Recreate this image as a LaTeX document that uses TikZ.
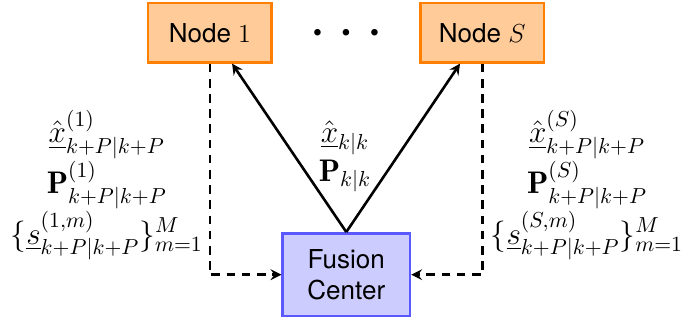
\documentclass[tikz,border=0pt]{standalone}
\usepackage{fontspec}
\setsansfont{TeX Gyre Heros}
\usepackage{amsmath, amssymb}
\usetikzlibrary{positioning, calc, arrows}
\newcommand{\xhat}{\ensuremath\hat{\underline{x}}}
\newcommand{\kP}{k+P|k+P}

\tikzset{
	sensor/.style={draw=orange, very thick, fill=orange!40, font=\sffamily\large, minimum width=2cm, minimum height=0.96cm},
	fusion/.style={draw=blue!65, very thick, fill=blue!20, font=\sffamily\large, align=center, minimum width=2.06cm, minimum height=1.34cm},
	msg/.style={align=center, font=\Large},
	report/.style={-stealth, very thick, dash pattern=on 4pt off 3pt},
	feedback/.style={-stealth, very thick},
}

\begin{document}
\begin{tikzpicture}
	\useasboundingbox (0,0) rectangle (11.34,5.25);
	\node[sensor] (n1) at (3.4,4.72) {Node $1$};
	\node[sensor, right=2.37cm of n1] (nS) {Node $S$};
	\node (dots) at ($(n1)!0.5!(nS)$) {\scriptsize$\bullet$\hspace{9pt}$\bullet$\hspace{9pt}$\bullet$};
	\node[fusion] (fc) at (5.61,0.8) {Fusion\\Center};
	
	\node[msg] (est) at (5.59,2.72) {$\xhat_{k|k}$\\$\mathbf{P}_{k|k}$};
	\node[msg] (loc1) at (1.73,2.25) {$\xhat^{(1)}_{\kP}$\\$\mathbf{P}^{(1)}_{\kP}$\\$\{\underline{s}^{(1,m)}_{\kP}\}_{m=1}^{M}$};
	\node[msg] (locS) at (9.51,2.25) {$\xhat^{(S)}_{\kP}$\\$\mathbf{P}^{(S)}_{\kP}$\\$\{\underline{s}^{(S,m)}_{\kP}\}_{m=1}^{M}$};
	
	\draw[report] (n1.south) |- (fc.west);
	\draw[report] (nS.south) |- (fc.east);
	\draw[feedback] (fc.north) -- ($(n1.south)+(0.36,0)$);
	\draw[feedback] (fc.north) -- ($(nS.south)+(-0.36,0)$);
\end{tikzpicture}
\end{document}
